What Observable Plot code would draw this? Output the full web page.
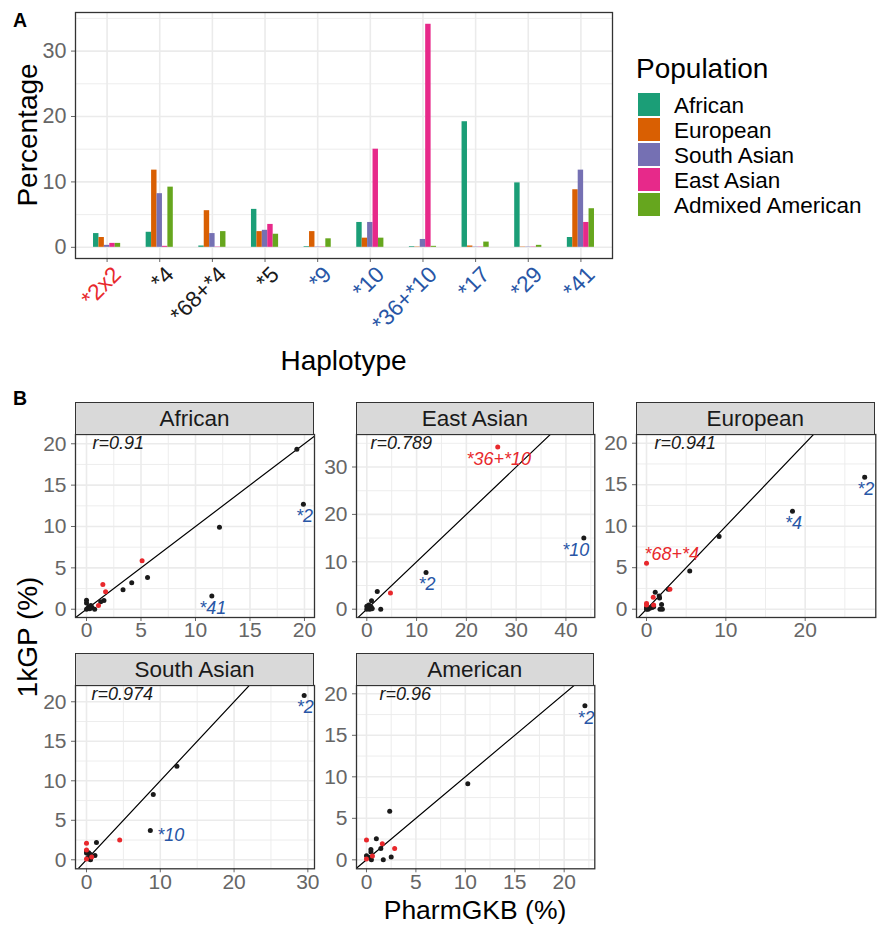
<!DOCTYPE html>
<html>
<head>
<meta charset="utf-8">
<script src="https://cdn.jsdelivr.net/npm/d3@7"></script>
<script src="https://cdn.jsdelivr.net/npm/@observablehq/plot@0.6"></script>
<style>
  body { margin: 0; background: #fff; }
  #root { position: relative; width: 881px; height: 925px; overflow: hidden;
          font-family: "Liberation Sans", Arial, Helvetica, sans-serif; background: #fff; }
  .abs { position: absolute; }
  .abs svg { display: block; max-width: none; }
  .strip { position: absolute; box-sizing: border-box; background: #D9D9D9; border: 1.2px solid #333;
           font-size: 22.5px; color: #1A1A1A; text-align: center; line-height: 31px; }
</style>
</head>
<body>
<div id="root"></div>
<script>
// ---------------- DATA: panel A ----------------
const haplotypes = ["*2x2", "*4", "*68+*4", "*5", "*9", "*10", "*36+*10", "*17", "*29", "*41"];
const haplotypeFunction = ["increased", "none", "none", "none", "decreased", "decreased", "decreased", "decreased", "decreased", "decreased"];
const populations = ["African", "European", "South Asian", "East Asian", "Admixed American"];
const pctAfrican         = [2.1, 2.3, 0.2, 5.8, 0.1, 3.8, 0.1, 19.2, 9.85, 1.5];
const pctEuropean        = [1.5, 11.8, 5.6, 2.4, 2.4, 1.4, 0.05, 0.2, 0.05, 8.8];
const pctSouthAsian      = [0.3, 8.2, 2.1, 2.6, 0.05, 3.8, 1.2, 0.05, 0.05, 11.8];
const pctEastAsian       = [0.6, 0.15, 0.05, 3.5, 0.05, 15.0, 34.1, 0.05, 0.05, 3.8];
const pctAdmixedAmerican = [0.6, 9.2, 2.4, 2.0, 1.3, 1.4, 0.15, 0.8, 0.3, 5.9];

// ---------------- DATA: panel B (PharmGKB %, 1kGP %, structural variant flag) ----------------
const afrPharm = [19.3, 19.9, 12.2, 11.5, 5.6, 4.15, 3.35, 1.6, 1.3, 0, 0, 0.2, 0.4, 0.5, 0.75, 0, 0.1, 0.3, 5.1, 1.5, 1.75, 1.1];
const afrKgp   = [19.35, 12.7, 9.9, 1.6, 3.85, 3.2, 2.35, 1.05, 0.9, 1.1, 0.75, 0.3, 0.45, 0.2, 0, 0, 0.1, 0.05, 5.85, 3.0, 2.1, 0.45];
const afrSV    = [0, 0, 0, 0, 0, 0, 0, 0, 0, 0, 0, 0, 0, 0, 0, 0, 0, 0, 1, 1, 1, 1];
const afrLabelText = ["*2", "*41"];
const afrLabelPoint = [1, 3];
const afrLabelPlace = ["below", "below"];

const easPharm = [26.3, 43.6, 11.9, 4.75, 2.1, 0.95, 2.8, 0, 0.3, 0.6, 0.9, 1.1, 0.4, 0, 0.7, 0.2];
const easKgp   = [34.2, 15.0, 7.75, 3.4, 3.75, 1.8, 0, 0.6, 0.2, 0, 0.4, 0.1, 0.9, 0, 0.6, 0.3];
const easSV    = [1, 0, 0, 1, 0, 0, 0, 0, 0, 0, 0, 0, 0, 0, 0, 0];
const easLabelText = ["*36+*10", "*10", "*2"];
const easLabelPoint = [0, 1, 2];
const easLabelPlace = ["below", "belowLeft", "below"];

const eurPharm = [27.5, 18.4, 9.15, 5.45, 0, 2.95, 2.75, 1.1, 1.6, 1.65, 0.85, 1.9, 1.7, 2.0, 0, 0, 0.9, 0, 0.4, 0.7, 0.9, 0.2, 0];
const eurKgp   = [15.9, 11.8, 8.75, 4.6, 5.55, 2.4, 2.4, 2.05, 1.6, 1.35, 1.45, 0.55, 0, 0, 0.7, 0.5, 0.5, 0.2, 0.1, 0.2, 0.3, 0, 0];
const eurSV    = [0, 0, 0, 0, 1, 1, 0, 0, 0, 0, 1, 0, 0, 0, 1, 1, 1, 0, 0, 0, 0, 0, 0];
const eurLabelText = ["*2", "*4", "*68+*4"];
const eurLabelPoint = [0, 1, 4];
const eurLabelPlace = ["below", "below", "aboveRight"];

const sasPharm = [29.5, 12.25, 9.05, 8.65, 4.5, 1.35, 0, 0, 0, 0.3, 0.5, 1.15, 0.7, 0.4, 0.55, 0.2, 0, 0];
const sasKgp   = [20.8, 11.85, 8.25, 3.7, 2.5, 2.2, 2.1, 1.1, 0.85, 0.9, 0.7, 0.55, 0.35, 0.1, 0, 0.3, 0.1, 1.25];
const sasSV    = [0, 0, 0, 0, 1, 0, 1, 0, 0, 0, 0, 0, 1, 0, 0, 0, 1, 1];
const sasLabelText = ["*2", "*10"];
const sasLabelPoint = [0, 3];
const sasLabelPlace = ["below", "right"];

const amrPharm = [22.1, 10.25, 2.35, 1.0, 0, 1.6, 2.85, 1.45, 0.45, 0.45, 2.5, 1.7, 0, 0.5, 0.6, 0.2, 0];
const amrKgp   = [18.55, 9.15, 5.85, 2.55, 2.4, 1.95, 1.35, 1.35, 1.25, 0.95, 0.35, 0, 0.5, 0, 0.45, 0.3, 0.1];
const amrSV    = [0, 0, 0, 0, 1, 1, 1, 0, 0, 0, 0, 0, 0, 0, 1, 0, 1];
const amrLabelText = ["*2"];
const amrLabelPoint = [0];
const amrLabelPlace = ["below"];

const correlations = ["r=0.91", "r=0.789", "r=0.941", "r=0.974", "r=0.96"];
const facetNames = ["African", "East Asian", "European", "South Asian", "American"];

// ---------------- STYLE ----------------
const FONT = '"Liberation Sans", Arial, Helvetica, sans-serif';
const popColors = ["#1B9E77", "#D95F02", "#7570B3", "#E7298A", "#66A61E"];
const RED = "#E8282C", BLUE = "#2856A6", BLACK = "#1A1A1A";
const funcColor = {increased: RED, none: BLACK, decreased: BLUE};
const GRID = "#EBEBEB", BORDER = "#333333", TICKTEXT = "#666666";
const TICKSIZE = 21;

const root = document.getElementById("root");
function place(node, left, top) {
  const d = document.createElement("div");
  d.className = "abs";
  d.style.left = left + "px";
  d.style.top = top + "px";
  d.appendChild(node);
  root.appendChild(d);
  return d;
}
const baseStyle = (size) => ({background: "transparent", fontFamily: FONT, fontSize: size + "px", color: TICKTEXT, overflow: "visible"});

// ---------------- text overlay (titles, legend) ----------------
const ov = d3.create("svg").attr("width", 881).attr("height", 925)
  .style("font-family", FONT);
place(ov.node(), 0, 0);
ov.append("text").attr("x", 13).attr("y", 27).attr("font-size", 19.5).attr("font-weight", "bold").attr("fill", "#000").text("A");
ov.append("text").attr("x", 13).attr("y", 405).attr("font-size", 19.5).attr("font-weight", "bold").attr("fill", "#000").text("B");
ov.append("text").attr("transform", "translate(37,135) rotate(-90)").attr("text-anchor", "middle")
  .attr("font-size", 28).attr("fill", "#000").text("Percentage");
ov.append("text").attr("x", 343.5).attr("y", 370).attr("text-anchor", "middle")
  .attr("font-size", 28).attr("fill", "#000").text("Haplotype");
ov.append("text").attr("transform", "translate(37,637) rotate(-90)").attr("text-anchor", "middle")
  .attr("font-size", 28).attr("fill", "#000").text("1kGP (%)");
ov.append("text").attr("x", 475).attr("y", 919).attr("text-anchor", "middle")
  .attr("font-size", 26.5).attr("fill", "#000").text("PharmGKB (%)");
// legend
ov.append("text").attr("x", 636).attr("y", 78).attr("font-size", 28).attr("fill", "#000").text("Population");
populations.forEach((p, i) => {
  const cy = 104.5 + 25 * i;
  ov.append("rect").attr("x", 638).attr("y", cy - 11.5).attr("width", 22).attr("height", 23).attr("fill", popColors[i]);
  ov.append("text").attr("x", 674).attr("y", cy + 8).attr("font-size", 22.5).attr("fill", "#000").text(p);
});

// ---------------- Panel A ----------------
const barRows = [pctAfrican, pctEuropean, pctSouthAsian, pctEastAsian, pctAdmixedAmerican]
  .flatMap((vals, j) => haplotypes.map((h, i) => ({hap: h, pop: populations[j], value: vals[i]})));
const hapRows = haplotypes.map((h, i) => ({hap: h, func: haplotypeFunction[i]}));
const yDomA = [-1.71, 35.9];
const A = {width: 620, height: 350, marginLeft: 75, marginRight: 8, marginTop: 12, marginBottom: 92};

const plotAbg = Plot.plot({
  ...A,
  style: baseStyle(21.5),
  x: {type: "band", domain: haplotypes, paddingInner: 0, paddingOuter: 0.1, round: false,
      tickSize: 4, tickFormat: () => "", label: null},
  y: {domain: yDomA, ticks: 4, tickSize: 4, tickPadding: 5, label: null},
  marks: [
    Plot.ruleY([5, 15, 25, 35], {stroke: GRID, strokeWidth: 0.9}),
    Plot.ruleY([0, 10, 20, 30], {stroke: GRID, strokeWidth: 1.6}),
    Plot.ruleX(haplotypes, {x: d => d, stroke: GRID, strokeWidth: 1.6}),
    Plot.frame({stroke: BORDER, strokeWidth: 1.3}),
    ...Object.keys(funcColor).map(f => Plot.text(hapRows.filter(d => d.func === f), {
      x: "hap", text: "hap", frameAnchor: "bottom", dy: 6, dx: 4, rotate: -45,
      textAnchor: "end", lineAnchor: "top", fill: funcColor[f], fontSize: 22.5
    }))
  ]
});
place(plotAbg, 0, 0);

const plotAbars = Plot.plot({
  ...A,
  style: baseStyle(21.5),
  fx: {domain: haplotypes, paddingInner: 0, paddingOuter: 0.1, round: false, axis: null, label: null},
  x: {domain: populations, paddingInner: 0, paddingOuter: 2.35, round: false, axis: null},
  y: {domain: yDomA, axis: null},
  color: {domain: populations, range: popColors},
  marks: [
    Plot.barY(barRows, {fx: "hap", x: "pop", y: "value", fill: "pop"})
  ]
});
place(plotAbars, 0, 0);

// ---------------- Panel B ----------------
const panels = [
  {name: facetNames[0], r: correlations[0], left: 75,    top: 434,   width: 239,   height: 183,
   xDomain: [-1.01, 20.92], yDomain: [-1.0, 21.12], xTicks: 5, yTicks: 5, rdx: 17,
   pharm: afrPharm, kgp: afrKgp, sv: afrSV, lt: afrLabelText, lp: afrLabelPoint, lpl: afrLabelPlace},
  {name: facetNames[1], r: correlations[1], left: 355.7, top: 434,   width: 238.3, height: 183,
   xDomain: [-2.07, 45.8], yDomain: [-1.75, 36.86], xTicks: 5, yTicks: 4, rdx: 14,
   pharm: easPharm, kgp: easKgp, sv: easSV, lt: easLabelText, lp: easLabelPoint, lpl: easLabelPlace},
  {name: facetNames[2], r: correlations[2], left: 635.7, top: 434,   width: 239.3, height: 183,
   xDomain: [-1.26, 28.9], yDomain: [-1.0, 21.05], xTicks: 3, yTicks: 5, rdx: 18,
   pharm: eurPharm, kgp: eurKgp, sv: eurSV, lt: eurLabelText, lp: eurLabelPoint, lpl: eurLabelPlace},
  {name: facetNames[3], r: correlations[3], left: 75,    top: 685,   width: 239,   height: 183.3,
   xDomain: [-1.49, 30.9], yDomain: [-1.14, 22.06], xTicks: 4, yTicks: 5, rdx: 16,
   pharm: sasPharm, kgp: sasKgp, sv: sasSV, lt: sasLabelText, lp: sasLabelPoint, lpl: sasLabelPlace},
  {name: facetNames[4], r: correlations[4], left: 355.7, top: 685,   width: 238.3, height: 183.3,
   xDomain: [-1.01, 23.1], yDomain: [-1.08, 21.0], xTicks: 5, yTicks: 5, rdx: 23,
   pharm: amrPharm, kgp: amrKgp, sv: amrSV, lt: amrLabelText, lp: amrLabelPoint, lpl: amrLabelPlace}
];

const placements = {
  below:      {textAnchor: "middle", dx: 1,  dy: 12},
  belowLeft:  {textAnchor: "middle", dx: -8, dy: 12},
  aboveRight: {textAnchor: "start",  dx: -2, dy: -9},
  right:      {textAnchor: "start",  dx: 7,  dy: 5}
};

function minorOf(domain, count) {
  const major = d3.ticks(domain[0], domain[1], count);
  const step = major[1] - major[0];
  return {major, minor: d3.range(major[0] - step / 2, domain[1], step).filter(v => v >= domain[0])};
}

panels.forEach(p => {
  const ml = 48, mr = 10, mt = 2, mb = 32;
  const pts = p.pharm.map((x, i) => ({x, y: p.kgp[i], sv: p.sv[i]}));
  const labs = p.lt.map((t, i) => ({text: t, x: p.pharm[p.lp[i]], y: p.kgp[p.lp[i]], sv: p.sv[p.lp[i]], place: p.lpl[i]}));
  const gx = minorOf(p.xDomain, p.xTicks), gy = minorOf(p.yDomain, p.yTicks);
  const lo = Math.min(p.xDomain[0], p.yDomain[0]), hi = Math.max(p.xDomain[1], p.yDomain[1]);
  const labelMarks = [];
  for (const pl of Object.keys(placements)) {
    for (const sv of [0, 1]) {
      const sub = labs.filter(d => d.place === pl && d.sv === sv);
      if (sub.length) labelMarks.push(Plot.text(sub, {
        x: "x", y: "y", text: "text", ...placements[pl], fill: sv ? RED : BLUE,
        fontSize: 18, fontStyle: "italic"
      }));
    }
  }
  const chart = Plot.plot({
    width: ml + p.width + mr, height: mt + p.height + mb,
    marginLeft: ml, marginRight: mr, marginTop: mt, marginBottom: mb,
    style: baseStyle(TICKSIZE),
    x: {domain: p.xDomain, ticks: p.xTicks, tickSize: 4, tickPadding: 1, label: null},
    y: {domain: p.yDomain, ticks: p.yTicks, tickSize: 4, tickPadding: 5, label: null},
    marks: [
      Plot.ruleX(gx.minor, {stroke: GRID, strokeWidth: 0.9}),
      Plot.ruleY(gy.minor, {stroke: GRID, strokeWidth: 0.9}),
      Plot.ruleX(gx.major, {stroke: GRID, strokeWidth: 1.6}),
      Plot.ruleY(gy.major, {stroke: GRID, strokeWidth: 1.6}),
      Plot.line([lo, hi], {x: d => d, y: d => d, stroke: "#000", strokeWidth: 1.2, clip: true}),
      Plot.dot(pts.filter(d => !d.sv), {x: "x", y: "y", r: 2.5, fill: BLACK, stroke: null}),
      Plot.dot(pts.filter(d => d.sv), {x: "x", y: "y", r: 2.5, fill: RED, stroke: null}),
      ...labelMarks,
      Plot.text([p.r], {text: d => d, frameAnchor: "top-left", dx: p.rdx, dy: 9, textAnchor: "start",
                        lineAnchor: "middle", fill: BLACK, fontSize: 18, fontStyle: "italic"}),
      Plot.frame({stroke: BORDER, strokeWidth: 1.3})
    ]
  });
  place(chart, p.left - ml, p.top - mt);
  const s = document.createElement("div");
  s.className = "strip";
  s.style.left = p.left + "px";
  s.style.top = (p.top - 32.5) + "px";
  s.style.width = p.width + "px";
  s.style.height = "33px";
  s.textContent = p.name;
  root.appendChild(s);
});
</script>
</body>
</html>
